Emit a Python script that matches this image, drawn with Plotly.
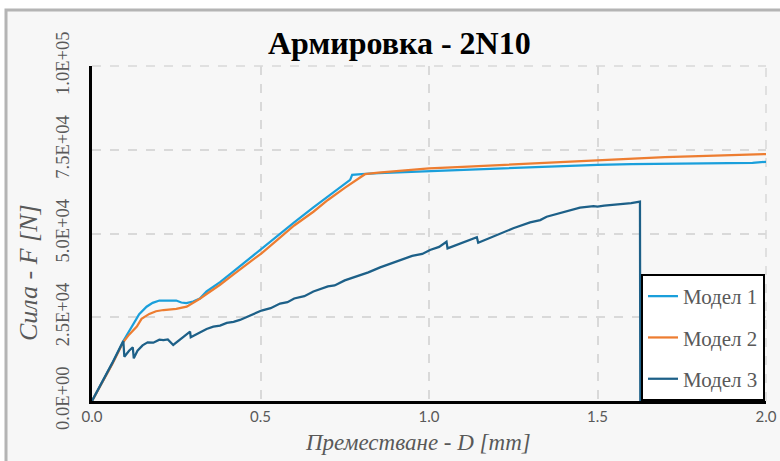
import plotly.graph_objects as go

# ---------------- data ----------------
model1_x = [0, 0.03, 0.06, 0.093, 0.11, 0.123, 0.14, 0.162, 0.18, 0.2, 0.23, 0.25, 0.265, 0.28,
            0.3, 0.32, 0.34, 0.38, 0.42, 0.46, 0.5, 0.55, 0.6, 0.657, 0.7, 0.74, 0.766, 0.772,
            0.78, 0.8, 0.85, 0.9, 0.95, 1.0, 1.1, 1.2, 1.3, 1.4, 1.5, 1.6, 1.7, 1.8, 1.9, 1.96, 2.0]
model1_y = [0, 5500, 11200, 17900, 20800, 23200, 25900, 28150, 29300, 30000, 30100, 30000, 29400, 29200,
            29700, 30600, 32700, 35500, 38700, 42000, 45300, 49300, 53300, 57800, 61000, 64100, 66000, 67500,
            67600, 67700, 68000, 68200, 68400, 68650, 69000, 69400, 69800, 70100, 70500, 70700, 70800, 70900, 71000, 71100, 71400]

model2_x = [0, 0.03, 0.06, 0.093, 0.11, 0.133, 0.147, 0.17, 0.19, 0.212, 0.25, 0.281, 0.3, 0.32, 0.34,
            0.38, 0.42, 0.46, 0.503, 0.55, 0.6, 0.657, 0.7, 0.75, 0.795, 0.81, 0.85, 0.9, 1.0, 1.1,
            1.2, 1.3, 1.4, 1.5, 1.6, 1.7, 1.8, 1.9, 2.0]
model2_y = [0, 5300, 11000, 17600, 19800, 22200, 24500, 26000, 26800, 27160, 27500, 28150, 29200, 30500, 31940,
            34700, 37800, 40900, 44090, 48100, 52400, 56500, 60000, 63600, 66500, 67700, 68200, 68600, 69460, 69900,
            70400, 70900, 71400, 71940, 72400, 72800, 73100, 73400, 73730]

model3_x = [0, 0.03, 0.06, 0.093, 0.096, 0.11, 0.121, 0.124, 0.135, 0.15, 0.165, 0.182, 0.2, 0.212,
            0.225, 0.241, 0.26, 0.28, 0.291, 0.293, 0.32, 0.34, 0.36, 0.38, 0.4, 0.42, 0.439, 0.47, 0.503,
            0.53, 0.558, 0.58, 0.6, 0.63, 0.657, 0.7, 0.72, 0.75, 0.795, 0.82, 0.855, 0.9, 0.95, 0.98,
            1.003, 1.03, 1.052, 1.055, 1.08, 1.1, 1.12, 1.142, 1.146, 1.17, 1.2, 1.25, 1.3, 1.33, 1.349,
            1.4, 1.448, 1.488, 1.5, 1.52, 1.547, 1.58, 1.6, 1.626, 1.627]
model3_y = [0, 5600, 11300, 17900, 13200, 15000, 16030, 12750, 15000, 16600, 17500, 17400, 18300, 18200,
            18400, 16720, 18300, 19800, 20700, 19000, 20300, 21500, 22200, 22500, 23300, 23600, 24200, 25600, 27000,
            27700, 29100, 29500, 30600, 31300, 32700, 34200, 34500, 36000, 37600, 38400, 39900, 41600, 43300, 43900,
            45070, 46000, 47550, 45570, 46500, 47300, 47900, 48860, 47260, 48300, 49600, 51550, 53300, 54000, 55020,
            56500, 57700, 58200, 58000, 58300, 58500, 58900, 59100, 59500, 0]

series_names = ["Модел 1", "Модел 2", "Модел 3"]
series_colors = ["#1a9fdb", "#ed7d31", "#1d6088"]

y_tick_vals = [0, 25000, 50000, 75000, 100000]
y_tick_text = ["0.0E+00", "2.5E+04", "5.0E+04", "7.5E+04", "1.0E+05"]
x_tick_vals = [0, 0.5, 1.0, 1.5, 2.0]
x_tick_text = ["0.0", "0.5", "1.0", "1.5", "2.0"]

title_text = "Армировка - 2N10"
x_title = "Преместване - D [mm]"
y_title = "Сила - F [N]"

# ---------------- figure ----------------
fig = go.Figure()
for i, (xs, ys) in enumerate([(model1_x, model1_y), (model2_x, model2_y), (model3_x, model3_y)]):
    fig.add_trace(go.Scatter(x=xs, y=ys, mode="lines", name=series_names[i],
                             legendgroup=str(i),
                             line=dict(color=series_colors[i], width=2.25)))

L, R, T, B = 92, 14, 66, 60
W, H = 780, 461
pw, ph = W - L - R, H - T - B

def px_x(p):
    return (p - L) / pw

def px_y(p):
    return (H - B - p) / ph

fig.update_layout(
    width=W, height=H,
    margin=dict(l=L, r=R, t=T, b=B, autoexpand=False),
    paper_bgcolor="white",
    plot_bgcolor="#f7f7f7",
    showlegend=True,
    legend=dict(x=0.9985, y=0, xanchor="right", yanchor="bottom",
                bgcolor="white", bordercolor="black", borderwidth=2,
                font=dict(family="Liberation Serif", size=21, color="#595959"),
                tracegroupgap=11, itemwidth=30),
    xaxis=dict(range=[0, 2], tickvals=x_tick_vals, ticktext=x_tick_text,
               showgrid=True, gridcolor="#d9d9d9", gridwidth=1.5, griddash="dash",
               showline=True, linecolor="black", linewidth=2.5, zeroline=False,
               ticks="", tickfont=dict(family="Lato", size=15, color="#595959")),
    yaxis=dict(range=[0, 100000], tickvals=y_tick_vals, ticktext=y_tick_text,
               showgrid=True, gridcolor="#d9d9d9", gridwidth=1.5, griddash="dash",
               showline=True, linecolor="black", linewidth=2.5, zeroline=False,
               ticks="", tickangle=-90, ticklabelstandoff=13,
               tickfont=dict(family="Liberation Serif", size=18.5, color="#595959")),
    shapes=[
        dict(type="rect", xref="paper", yref="paper", layer="below",
             x0=px_x(6), x1=px_x(795), y0=px_y(480), y1=px_y(10),
             fillcolor="#f7f7f7", line=dict(color="#b4b4b4", width=3)),
        dict(type="line", xref="paper", yref="paper", layer="below",
             x0=0, x1=1, y0=1, y1=1, line=dict(color="#d9d9d9", width=1.5, dash="dash")),
        dict(type="line", xref="paper", yref="paper", layer="below",
             x0=1, x1=1, y0=0, y1=1, line=dict(color="#d9d9d9", width=1.5, dash="dash")),
    ],
    annotations=[
        dict(text="<b>" + title_text + "</b>", xref="paper", yref="paper",
             x=px_x(399), y=px_y(43), xanchor="center", yanchor="middle", showarrow=False,
             font=dict(family="Liberation Serif", size=32, color="black")),
        dict(text="<i>" + x_title + "</i>", xref="paper", yref="paper",
             x=px_x(418), y=px_y(442), xanchor="center", yanchor="middle", showarrow=False,
             font=dict(family="Liberation Serif", size=23, color="#595959")),
        dict(text="<i>" + y_title + "</i>", xref="paper", yref="paper",
             x=px_x(28), y=px_y(273), xanchor="center", yanchor="middle", showarrow=False,
             textangle=-90,
             font=dict(family="Liberation Serif", size=26, color="#595959")),
    ],
)

fig.write_html("out.html", config={"displayModeBar": False},
               post_script="document.body.style.margin='0';")
